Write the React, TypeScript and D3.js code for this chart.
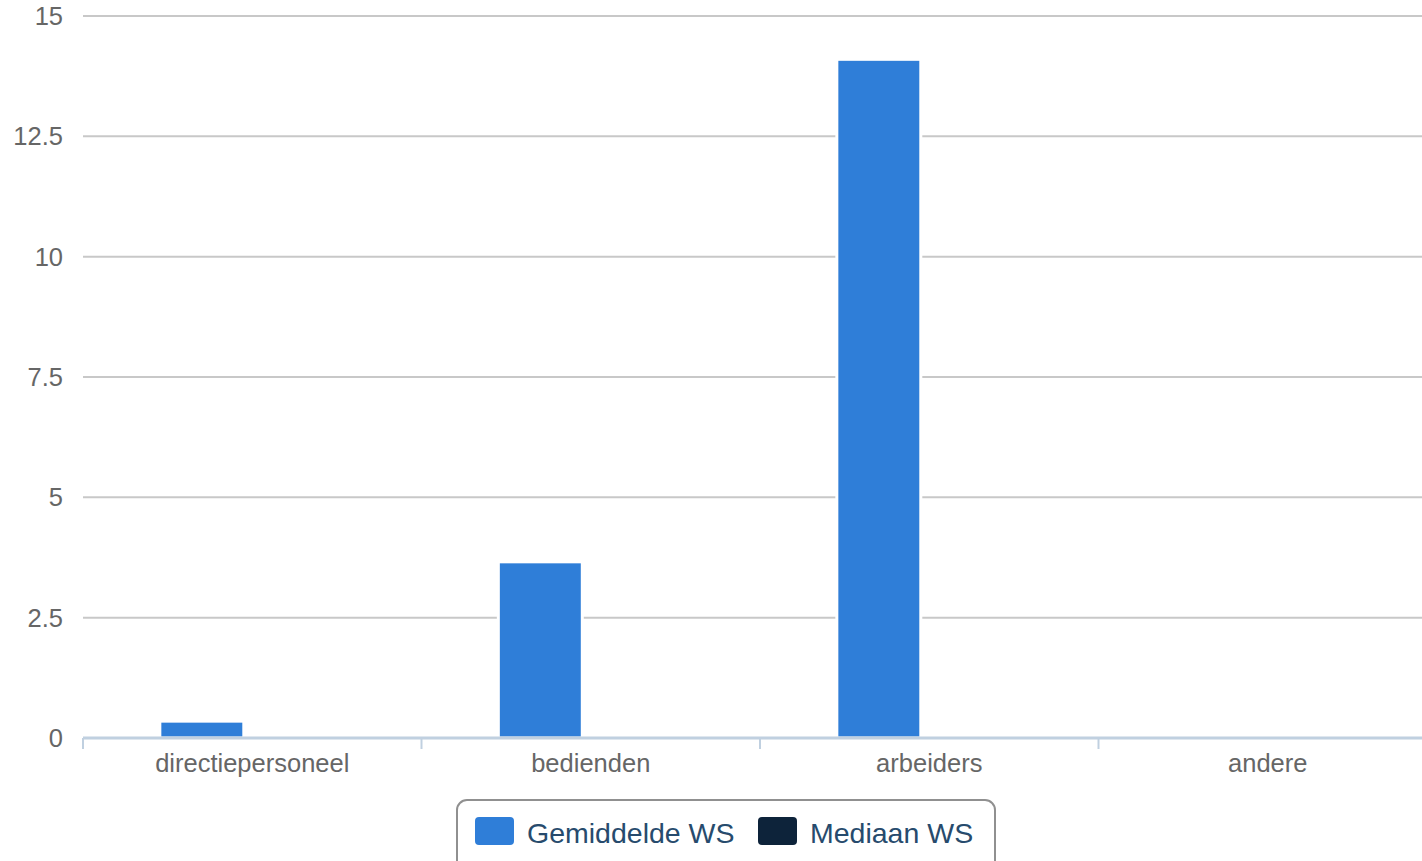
import React from "react";
import * as d3 from "d3";

const categories = ["directiepersoneel", "bedienden", "arbeiders", "andere"];
const seriesNames = ["Gemiddelde WS", "Mediaan WS"];
const gemiddelde = [0.35, 3.66, 14.1, 0];
const mediaan = [0, 0, 0, 0];
const yTicks = [0, 2.5, 5, 7.5, 10, 12.5, 15];
const colors = ["#2f7ed8", "#0d233a"];

const W = 1422;
const H = 861;
const left = 83;
const right = 1437;
const top = 16;
const bottom = 738;

export default function App() {
  const x = d3.scaleBand<string>().domain(categories).range([left, right]).padding(0);
  const bw = x.bandwidth();
  const inner = d3
    .scaleBand<string>()
    .domain(seriesNames)
    .range([0.227 * bw, 0.7506 * bw])
    .paddingInner(0.1)
    .paddingOuter(0);
  const y = d3.scaleLinear().domain([0, 15]).range([bottom, top]);
  const series = [gemiddelde, mediaan];
  const font = "'Liberation Sans', Arial, Helvetica, sans-serif";

  return (
    <svg
      width={W}
      height={H}
      style={{ position: "absolute", left: 0, top: 0, background: "#fff" }}
      fontFamily={font}
    >
      {yTicks.map((t) => (
        <g key={t}>
          {t !== 0 && (
            <line x1={left} x2={W} y1={y(t)} y2={y(t)} stroke="#c8c8c8" strokeWidth={2} />
          )}
          <text x={63} y={y(t) + 9} textAnchor="end" fontSize={25.5} fill="#666">
            {t}
          </text>
        </g>
      ))}
      {series.map((vals, si) =>
        categories.map((c, ci) => {
          const v = vals[ci];
          const x0 = (x(c) as number) + (inner(seriesNames[si]) as number);
          const h = bottom - y(v);
          if (h <= 0) return null;
          return (
            <rect
              key={`${si}-${ci}`}
              x={x0}
              y={y(v)}
              width={inner.bandwidth()}
              height={h}
              fill={colors[si]}
              stroke="#fff"
              strokeWidth={3}
            />
          );
        })
      )}
      <line x1={left} x2={W} y1={bottom} y2={bottom} stroke="#c0d0e0" strokeWidth={3} />
      {categories.map((c) => (
        <line
          key={c}
          x1={x(c) as number}
          x2={x(c) as number}
          y1={bottom}
          y2={bottom + 11}
          stroke="#c0d0e0"
          strokeWidth={2}
        />
      ))}
      {categories.map((c) => (
        <text
          key={c}
          x={(x(c) as number) + bw / 2}
          y={772}
          textAnchor="middle"
          fontSize={25.5}
          fill="#666"
        >
          {c}
        </text>
      ))}
      <rect x={457} y={800} width={538} height={80} rx={10} ry={10} fill="#fff" stroke="#909090" strokeWidth={2} />
      {seriesNames.map((s, i) => {
        const lx = i === 0 ? 475 : 758;
        return (
          <g key={s}>
            <rect x={lx} y={817} width={39} height={28} rx={4} ry={4} fill={colors[i]} />
            <text x={lx + 52} y={843} fontSize={28.5} fill="#274b6d">
              {s}
            </text>
          </g>
        );
      })}
    </svg>
  );
}
